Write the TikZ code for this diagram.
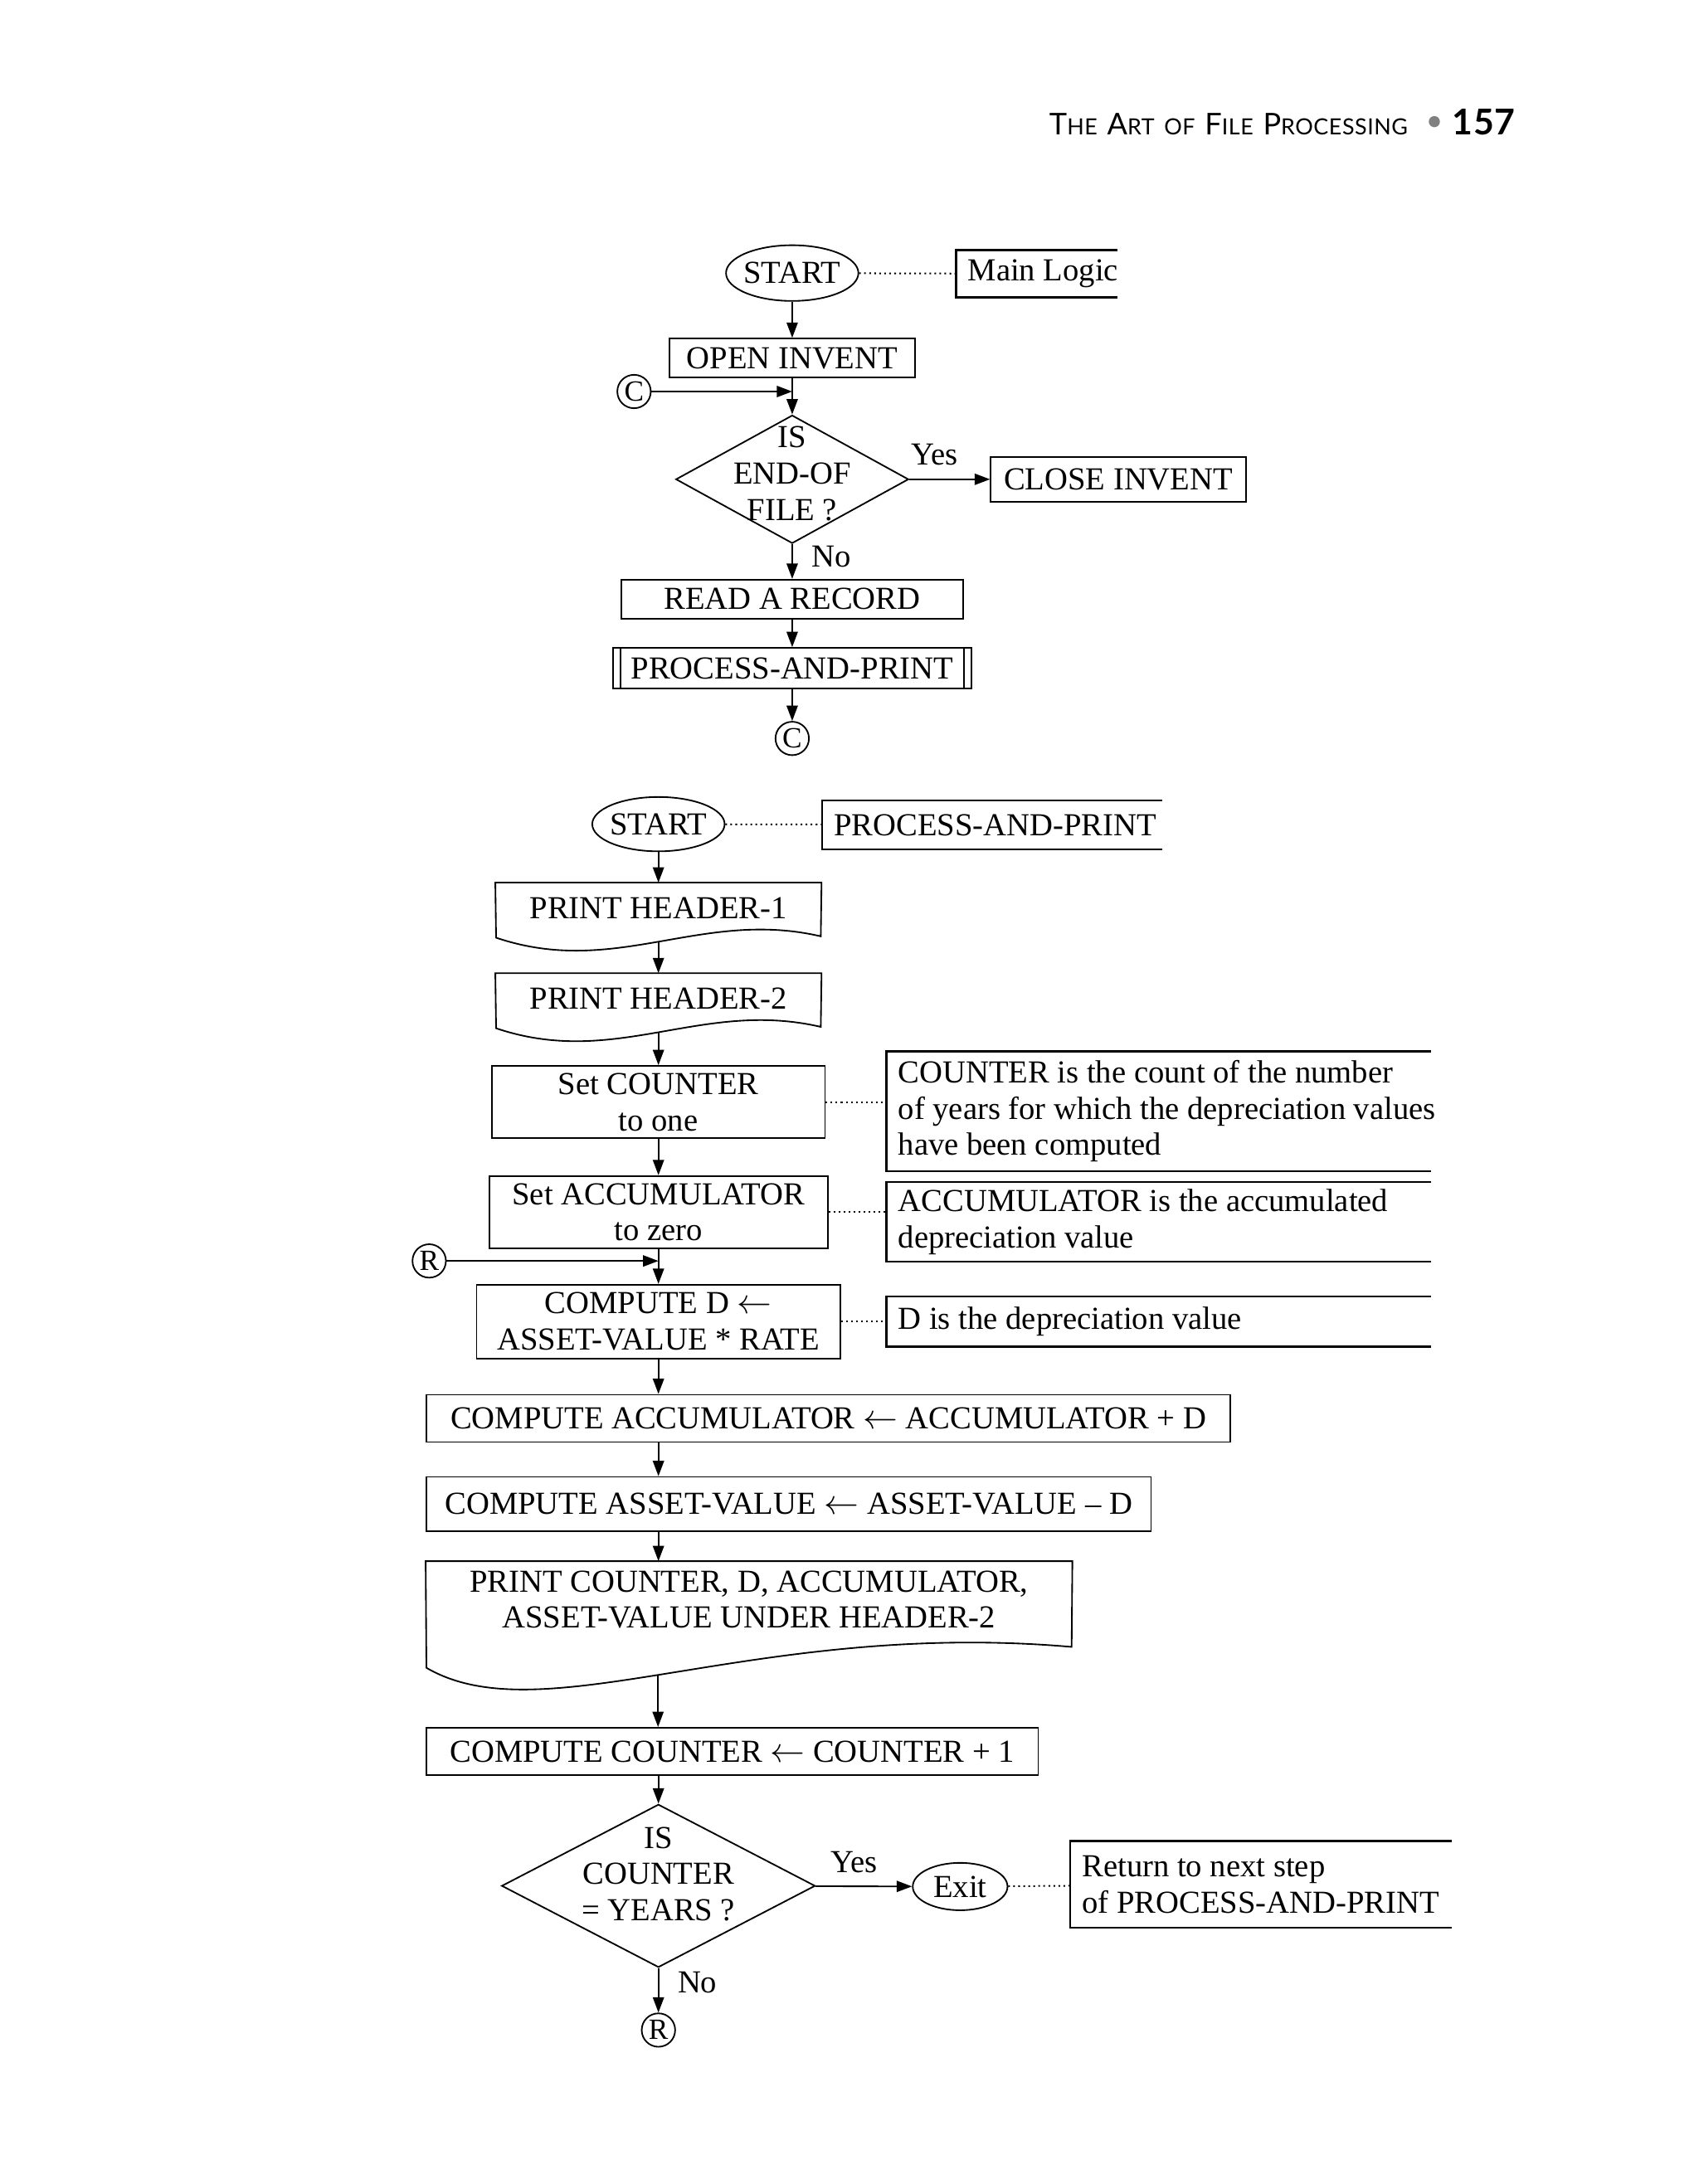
\documentclass[tikz,border=0pt]{standalone}
\usepackage{fontspec}
\setmainfont{Liberation Serif}
\newfontfamily\headfont{Lato}[LetterSpace=2]
\usetikzlibrary{shapes.geometric,arrows.meta}
\newcommand\hbig{\fontsize{21.5}{22}\selectfont}
\newcommand\hsmall{\fontsize{16}{22}\selectfont}

\begin{document}
\begin{tikzpicture}[x=1pt,y=-1pt,>={Triangle[length=11pt,width=8pt]},line width=1.1pt,
  font=\fontsize{23}{26}\selectfont,
  term node/.style={ellipse,draw,inner sep=-4pt},
  proc node/.style={rectangle,draw,inner sep=0pt,align=center},
  doc node/.style={rectangle,inner sep=0pt,align=center},
  dec node/.style={diamond,draw,inner sep=0pt},
  con node/.style={circle,draw,inner sep=0pt,minimum size=24pt,font=\fontsize{21}{24}\selectfont},
  note node/.style={anchor=west,align=left,inner xsep=8pt,inner ysep=0pt},
  note line/.style={line width=1.5pt},
  dot line/.style={dash pattern=on 1.2pt off 2.4pt,line width=1.2pt}]

  \useasboundingbox (0,0) rectangle (1219.2,1567.5);

  % page heading
  \node[anchor=base west,inner sep=0pt,font=\headfont] (title) at (752.5,96.6)
    {{\hbig T}{\hsmall HE}\hspace{7pt}{\hbig A}{\hsmall RT}\hspace{7pt}{\hsmall OF}\hspace{7pt}{\hbig F}{\hsmall ILE}\hspace{7pt}{\hbig P}{\hsmall ROCESSING}};
  \node[circle,fill=gray,inner sep=0pt,minimum size=8pt] (dot) at (1029.3,87.3) {};
  \node[anchor=base east,inner sep=0pt,font=\headfont\fontsize{25.5}{26}\selectfont\bfseries] (page) at (1088,96.6) {157};

  % main logic
  \node[term node,minimum width=95pt,minimum height=40pt] (start1) at (568.5,196) {START};
  \node[note node,minimum height=33pt] (logic) at (686,196.5) {Main Logic};
  \node[proc node,minimum width=176pt,minimum height=28pt] (open) at (568.5,257) {OPEN INVENT};
  \node[con node] (c1) at (455,281) {C};
  \coordinate (cjoin) at (568.5,281);
  \node[dec node,minimum width=167pt,minimum height=92pt] (eof) at (568.5,344) {};
  \node[align=center,inner sep=0pt] (eoftext) at (568.5,340) {IS\\END-OF\\FILE ?};
  \node[proc node,minimum width=183pt,minimum height=32pt] (close) at (802.5,344) {CLOSE INVENT};
  \node[proc node,minimum width=245pt,minimum height=28pt] (read) at (568.5,430) {READ A RECORD};
  \node[proc node,minimum width=257pt,minimum height=29pt] (pap) at (568.5,479.5) {PROCESS-AND-PRINT};
  \node[con node] (c2) at (568.5,530) {C};

  \draw ([xshift=6pt]pap.north west) -- ([xshift=6pt]pap.south west)
        ([xshift=-6pt]pap.north east) -- ([xshift=-6pt]pap.south east);
  \draw[note line] ([xshift=116pt]logic.north west) -- (logic.north west)
    -- (logic.south west) -- ([xshift=116pt]logic.south west);

  \path[->]
    (start1) edge (open)
    (open) edge (eof)
    (c1) edge (cjoin)
    (eof) edge node[above=6pt,pos=0.31] {Yes} (close)
    (eof) edge node[right=10pt,pos=0.35] {No} (read)
    (read) edge (pap)
    (pap) edge (c2);
  \path[dot line] (start1) edge (logic);

  % process-and-print
  \node[term node,minimum width=95pt,minimum height=39pt] (start2) at (472.5,591.5) {START};
  \node[note node,minimum height=34pt] (papnote) at (590,592) {PROCESS-AND-PRINT};
  \node[doc node,minimum width=233pt,minimum height=35pt] (head1) at (472.5,651.5) {PRINT HEADER-1};
  \node[doc node,minimum width=233pt,minimum height=35pt] (head2) at (472.5,716.5) {PRINT HEADER-2};
  \node[proc node,minimum width=239pt,minimum height=52pt] (setc) at (472.5,791) {Set COUNTER\\to one};
  \node[note node,minimum height=85pt] (cntnote) at (636,797.5)
    {COUNTER is the count of the number\\of years for which the depreciation values\\have been computed};
  \node[proc node,minimum width=243pt,minimum height=52pt] (seta) at (472.5,870) {Set ACCUMULATOR\\to zero};
  \node[note node,minimum height=56pt] (accnote) at (636,877) {ACCUMULATOR is the accumulated\\depreciation value};
  \node[con node] (r1) at (308,905) {R};
  \coordinate (rjoin) at (472.5,905);
  \node[proc node,minimum width=261pt,minimum height=53pt] (compd) at (472.5,948.5) {COMPUTE D $\leftarrow$\\ASSET-VALUE * RATE};
  \node[note node,minimum height=35pt] (dnote) at (636,948.5) {D is the depreciation value};
  \node[proc node,minimum width=577pt,minimum height=34pt] (acc) at (594.5,1018)
    {COMPUTE ACCUMULATOR $\leftarrow$ ACCUMULATOR + D};
  \node[proc node,minimum width=520pt,minimum height=39pt] (asset) at (566,1079.5)
    {COMPUTE ASSET-VALUE $\leftarrow$ ASSET-VALUE -- D};
  \node[doc node,minimum width=463pt,minimum height=54pt] (pc) at (537.5,1148)
    {PRINT COUNTER, D, ACCUMULATOR,\\ASSET-VALUE UNDER HEADER-2};
  \node[proc node,minimum width=439pt,minimum height=34pt] (cc) at (525.5,1257) {COMPUTE COUNTER $\leftarrow$ COUNTER + 1};
  \node[dec node,minimum width=225pt,minimum height=117pt] (years) at (472.5,1353.5) {};
  \node[align=center,inner sep=0pt] (yearstext) at (472.5,1345) {IS\\COUNTER\\= YEARS ?};
  \node[term node,minimum width=68pt,minimum height=34pt] (exit) at (689,1354) {Exit};
  \node[note node,minimum height=61pt] (retnote) at (768,1352.5) {Return to next step\\of PROCESS-AND-PRINT};
  \node[con node] (r2) at (472.5,1457) {R};

  % document outlines
  \draw (head1.north west) -- (head1.north east) -- (589,672)
    .. controls (503,652) and (442,702) .. coordinate[pos=0.5] (head1w) (356,673) -- cycle;
  \draw (head2.north west) -- (head2.north east) -- (589,737)
    .. controls (503,717) and (442,767) .. coordinate[pos=0.5] (head2w) (356,738) -- cycle;
  \draw (pc.north west) -- (pc.north east) -- (769,1182)
    .. controls (540,1162) and (390,1246) .. coordinate[pos=0.524] (pcw) (306,1197) -- cycle;

  % annotation brackets
  \draw[note line] ([xshift=244pt]papnote.north west) -- (papnote.north west)
    -- (papnote.south west) -- ([xshift=244pt]papnote.south west);
  \draw[note line] ([xshift=391pt]cntnote.north west) -- (cntnote.north west)
    -- (cntnote.south west) -- ([xshift=391pt]cntnote.south west);
  \draw[note line] ([xshift=391pt]accnote.north west) -- (accnote.north west)
    -- (accnote.south west) -- ([xshift=391pt]accnote.south west);
  \draw[note line] ([xshift=391pt]dnote.north west) -- (dnote.north west)
    -- (dnote.south west) -- ([xshift=391pt]dnote.south west);
  \draw[note line] ([xshift=274pt]retnote.north west) -- (retnote.north west)
    -- (retnote.south west) -- ([xshift=274pt]retnote.south west);

  \path[->]
    (start2) edge (head1)
    (head1w) edge (head1w |- head2.north)
    (head2w) edge (head2w |- setc.north)
    (setc) edge (seta)
    (seta) edge (compd)
    (r1) edge (rjoin)
    (compd.south) edge (compd.south |- acc.north)
    (compd.south |- acc.south) edge (compd.south |- asset.north)
    (compd.south |- asset.south) edge (compd.south |- pc.north)
    (pcw) edge (pcw |- cc.north)
    (compd.south |- cc.south) edge (years)
    (years) edge node[above=6pt,pos=0.4] {Yes} (exit)
    (years) edge node[right=10pt,pos=0.33] {No} (r2);
  \path[dot line]
    (start2) edge (papnote)
    (setc.east) edge (setc.east -| cntnote.west)
    (seta.east) edge (seta.east -| accnote.west)
    (compd.east) edge (compd.east -| dnote.west)
    (exit) edge (retnote);
\end{tikzpicture}
\end{document}
